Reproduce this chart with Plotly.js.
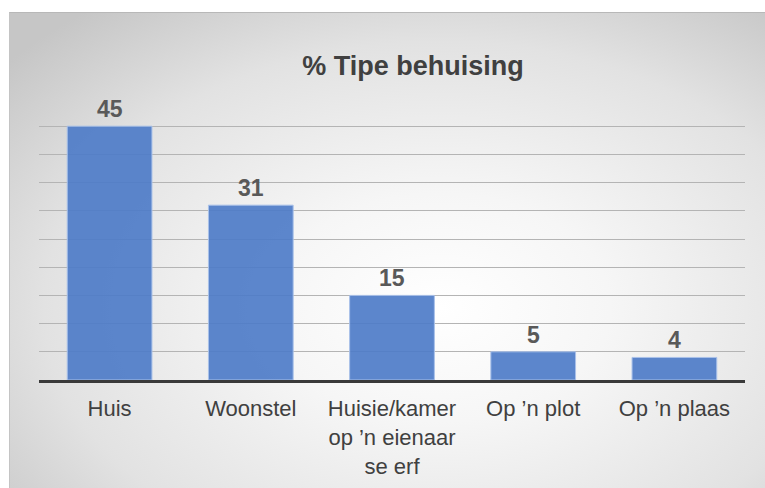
<!DOCTYPE html>
<html>
<head>
<meta charset="utf-8">
<script src="https://cdn.plot.ly/plotly-3.0.1.min.js"></script>
<style>
    html, body { margin: 0; padding: 0; background: #ffffff; }
    #bg {
        position: absolute;
        left: 9px;
        top: 12px;
        width: 756px;
        height: 476px;
        border-top: 1px solid #b8b8b8;
        border-left: 1px solid #c4c4c4;
        box-sizing: border-box;
        background: radial-gradient(ellipse 75% 80% at 57% 62%, #ffffff 0%, #f6f6f6 30%, #e2e2e2 70%, #c6c6c6 100%);
    }
    #chart { position: absolute; left: 0; top: 0; width: 765px; height: 488px; }
</style>
</head>
<body>
<div id="bg"></div>
<div id="chart"></div>
<script>
const categories = ["Huis", "Woonstel", "Huisie/kamer<br>op \u2019n eienaar<br>se erf", "Op \u2019n plot", "Op \u2019n plaas"];
const percentages = [45, 31, 15, 5, 4];
const yTicks = [0, 5, 10, 15, 20, 25, 30, 35, 40, 45, 50];

const fontFamily = '"Liberation Sans", Arial, sans-serif';

var barTrace = {
    x: categories,
    y: percentages,
    type: 'bar',
    marker: {
        color: 'rgba(78, 124, 200, 0.92)',
        line: { color: '#a9c1e9', width: 1 }
    },
    hoverinfo: 'none'
};

// value labels above each bar
var labels = categories.map(function (cat, i) {
    return {
        x: cat,
        y: percentages[i],
        text: String(percentages[i]),
        showarrow: false,
        yanchor: 'bottom',
        yshift: 2,
        font: { family: fontFamily, size: 23, color: '#595959', weight: 'bold' }
    };
});

var layout = {
    width: 765,
    height: 488,
    margin: { l: 39, r: 20, t: 98, b: 108 },
    paper_bgcolor: 'rgba(0,0,0,0)',
    plot_bgcolor: 'rgba(0,0,0,0)',
    bargap: 0.4,
    showlegend: false,
    title: {
        text: '<b>% Tipe behuising</b>',
        font: { family: fontFamily, size: 27, color: '#404040' },
        xref: 'container',
        yref: 'container',
        x: 0.54,
        xanchor: 'center',
        y: 1 - 66 / 488,
        yanchor: 'middle'
    },
    xaxis: {
        showgrid: false,
        showline: true,
        linecolor: '#3a3a3a',
        linewidth: 3,
        ticks: '',
        ticklabelstandoff: 7,
        tickfont: { family: fontFamily, size: 22, color: '#404040' }
    },
    yaxis: {
        range: [0, 50],
        tickvals: yTicks,
        showticklabels: false,
        showgrid: true,
        gridcolor: '#b4b4b4',
        gridwidth: 1,
        zeroline: false,
        showline: false
    },
    annotations: labels
};

Plotly.newPlot('chart', [barTrace], layout, { displayModeBar: false, staticPlot: true });
</script>
</body>
</html>
